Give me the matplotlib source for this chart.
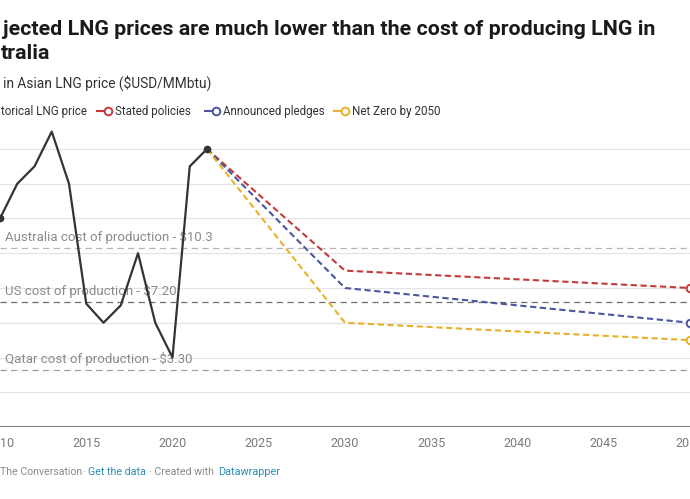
import matplotlib.pyplot as plt
from matplotlib.lines import Line2D

plt.rcParams['font.family'] = ['Roboto', 'DejaVu Sans']

# historical Asian LNG price ($USD/MMbtu)
years_hist = [2010, 2011, 2012, 2013, 2014, 2015, 2016, 2017, 2018, 2019, 2020, 2021, 2022]
price_hist = [12, 14, 15, 17, 14, 7.1, 6, 7, 10, 6, 4, 15, 16]

# IEA scenarios
proj_years = [2022, 2030, 2050]
stated = [16, 9, 8]
announced = [16, 8, 6]
netzero = [16, 6, 5]

scen_names = ['Stated policies', 'Announced pledges', 'Net Zero by 2050']
scen_colors = ['#c4393a', '#4a56a0', '#e8b12a']

cost_labels = ['Australia cost of production - $10.3', 'US cost of production - $7.20',
               'Qatar cost of production - $3.30']
cost_values = [10.3, 7.2, 3.3]
cost_colors = ['#b5b5b5', '#6e6e6e', '#a0a0a0']

xticks = list(range(2010, 2051, 5))
# edge labels are cropped in the reference
xticklabels = ['10', '2015', '2020', '2025', '2030', '2035', '2040', '2045', '20']

fig = plt.figure(figsize=(6.9, 4.99), dpi=100)

# main plot area (fig px: baseline at y=427, 17.375 px per unit)
ax = fig.add_axes([0, 72 / 499, 1, 18 * 17.375 / 499])
ax.set_facecolor('none')
ax.set_xlim(2010, 2050)
ax.set_ylim(0, 18)
for s in ax.spines.values():
    s.set_visible(False)
ax.set_yticks(range(0, 17, 2))
ax.set_yticklabels([])
ax.tick_params(axis='y', length=0)
ax.grid(axis='y', color='#e4e4e4', lw=0.9)
ax.set_axisbelow(True)
ax.axhline(0, color='#6b6b6b', lw=1.3, zorder=2)
ax.set_xticks(xticks)
ax.set_xticklabels(xticklabels)
ax.tick_params(axis='x', length=0, pad=7, labelsize=9, labelcolor='#7a7a7a')
tl = ax.get_xticklabels()
tl[0].set_ha('left')
tl[-1].set_ha('right')

for lab, v, c in zip(cost_labels, cost_values, cost_colors):
    ax.axhline(v, color=c, lw=0.9, ls=(0, (5, 3.5)), zorder=2)
    ax.annotate(lab, xy=(2010, v), xytext=(3.6, 8), textcoords='offset points',
                va='center', ha='left', fontsize=9.5, color='#8a8a8a', zorder=3)

for vals, c in zip([stated, announced, netzero], scen_colors):
    ax.plot(proj_years, vals, color=c, lw=1.5, dashes=(3, 1.7), zorder=4,
            marker='o', markevery=[2], ms=5.5, mfc='white', mec=c, mew=1.4, clip_on=False)

ax.plot(years_hist, price_hist, color='#333333', lw=1.6, zorder=5,
        marker='o', markevery=[0, len(years_hist) - 1], ms=4.5, clip_on=False)

# header / footer in pixel coordinates (text cropped at the left as in the reference)
ov = fig.add_axes([0, 0, 1, 1], zorder=-1)
ov.set_xlim(0, 690)
ov.set_ylim(499, 0)
ov.axis('off')

ov.text(655, 35, 'jected LNG prices are much lower than the cost of producing LNG in',
        ha='right', va='baseline', fontsize=15.4, fontweight='bold', color='#1a1a1a')
ov.text(50, 59, 'tralia', ha='right', va='baseline', fontsize=15.4,
        fontweight='bold', color='#1a1a1a')
ov.text(3, 88, 'in Asian LNG price ($USD/MMbtu)', ha='left', va='baseline',
        fontsize=9.9, color='#333333')

ov.text(87, 115, 'torical LNG price', ha='right', va='baseline', fontsize=8.4, color='#333333')
leg_x = [97, 205, 334]
for x0, name, c in zip(leg_x, scen_names, scen_colors):
    ov.add_line(Line2D([x0, x0 + 8], [111, 111], color=c, lw=1.5))
    ov.plot([x0 + 11], [111], marker='o', ms=5.5, mfc='white', mec=c, mew=1.4)
    ov.text(x0 + 18, 115, name, ha='left', va='baseline', fontsize=8.4, color='#333333')

ov.text(0.5, 475, 'The Conversation', ha='left', va='baseline', fontsize=7.6, color='#8a8a8a')
ov.text(82, 475, '\u00b7', ha='left', va='baseline', fontsize=7.6, color='#8a8a8a')
ov.text(88, 475, 'Get the data', ha='left', va='baseline', fontsize=7.7, color='#2b8db5')
ov.text(149, 475, '\u00b7 Created with', ha='left', va='baseline', fontsize=7.7, color='#8a8a8a')
ov.text(218, 475, 'Datawrapper', ha='left', va='baseline', fontsize=7.8, color='#2b8db5')

fig.savefig('out.png', dpi=100)
